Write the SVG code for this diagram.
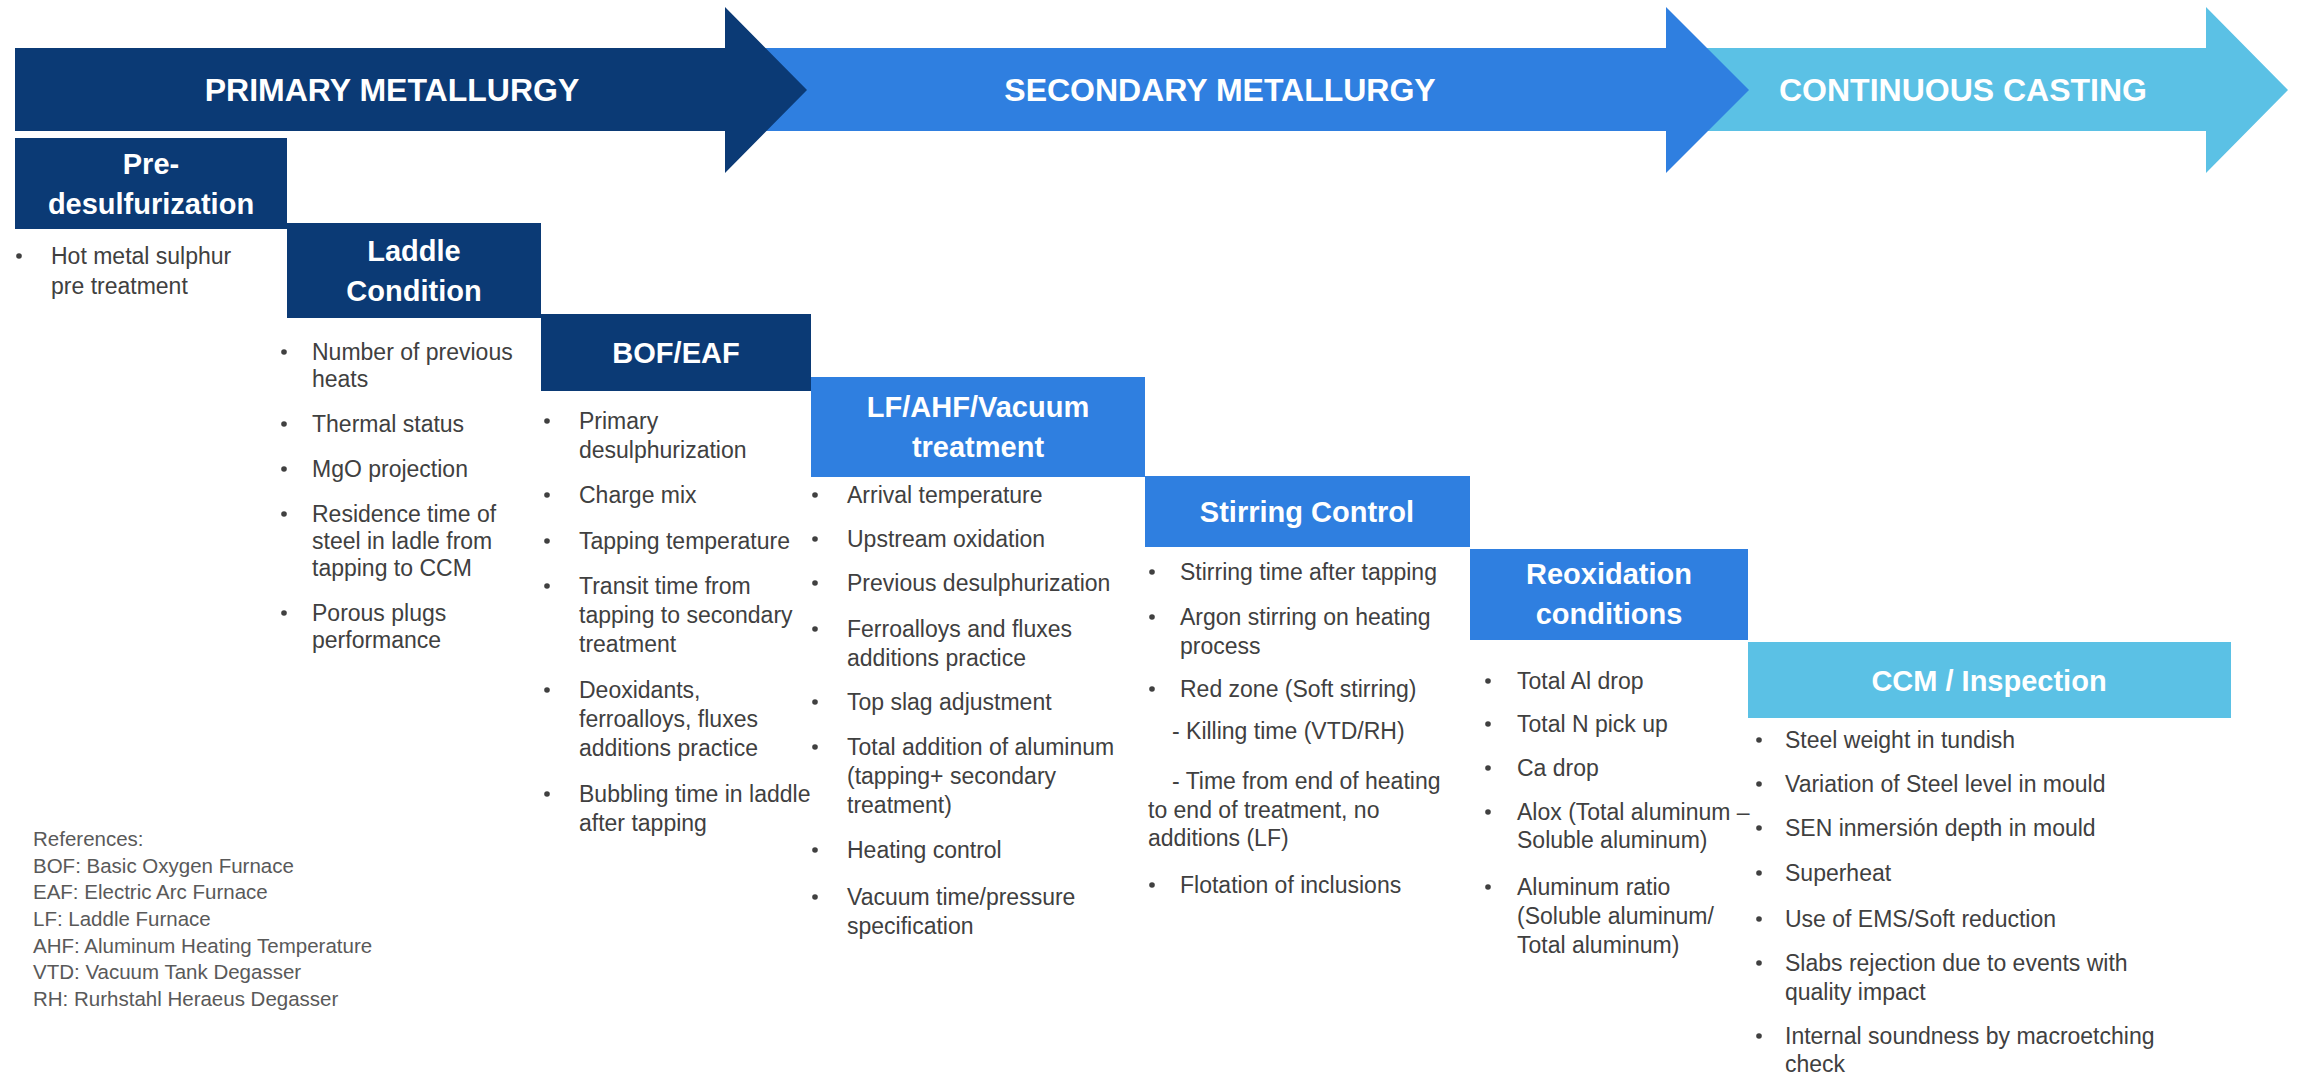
<svg xmlns="http://www.w3.org/2000/svg" width="2298" height="1074" viewBox="0 0 2298 1074">
  <style>
    .phase { font-family: "Liberation Sans", Arial, sans-serif; font-weight: bold; font-size: 32px; fill: #ffffff; text-anchor: middle; }
    .hdr { font-family: "Liberation Sans", Arial, sans-serif; font-weight: bold; font-size: 29px; fill: #ffffff; text-anchor: middle; }
    .item { font-family: "Liberation Sans", Arial, sans-serif; font-size: 23px; fill: #404040; }
    .ref { font-family: "Liberation Sans", Arial, sans-serif; font-size: 20.5px; fill: #595959; }
    .dot { fill: #404040; }
    .navy { fill: #0b3a75; }
    .blue { fill: #2f7fe0; }
    .sky { fill: #5bc1e5; }
  </style>

  <rect width="2298" height="1074" fill="#ffffff"/>

  <!-- Phase banners (drawn back to front so each head overlaps the next body) -->
  <g id="phase-continuous-casting">
    <polygon class="sky" points="1700,48 2206,48 2206,7 2288,90 2206,173 2206,131 1700,131"/>
    <text class="phase" x="1963" y="101">CONTINUOUS CASTING</text>
  </g>
  <g id="phase-secondary-metallurgy">
    <polygon class="blue" points="700,48 1666,48 1666,7 1749,90 1666,173 1666,131 700,131"/>
    <text class="phase" x="1220" y="101">SECONDARY METALLURGY</text>
  </g>
  <g id="phase-primary-metallurgy">
    <polygon class="navy" points="15,48 725,48 725,7 807,90 725,173 725,131 15,131"/>
    <text class="phase" x="392" y="101">PRIMARY METALLURGY</text>
  </g>

  <g id="connectors"></g>

  <!-- Step 1 -->
  <g id="pre-desulfurization">
    <rect class="navy" x="15" y="138" width="272" height="91"/>
    <text class="hdr" x="151" y="174">Pre-</text>
    <text class="hdr" x="151" y="214">desulfurization</text>
    <circle class="dot" cx="19" cy="256" r="2.8"/>
    <text class="item" x="51" y="264">Hot metal sulphur</text>
    <text class="item" x="51" y="294">pre treatment</text>
  </g>

  <!-- Step 2 -->
  <g id="laddle-condition">
    <rect class="navy" x="287" y="223" width="254" height="95"/>
    <text class="hdr" x="414" y="261">Laddle</text>
    <text class="hdr" x="414" y="301">Condition</text>
    <circle class="dot" cx="284" cy="352" r="2.8"/>
    <text class="item" x="312" y="360">Number of previous</text>
    <text class="item" x="312" y="387">heats</text>
    <circle class="dot" cx="284" cy="424" r="2.8"/>
    <text class="item" x="312" y="432">Thermal status</text>
    <circle class="dot" cx="284" cy="469" r="2.8"/>
    <text class="item" x="312" y="477">MgO projection</text>
    <circle class="dot" cx="284" cy="514" r="2.8"/>
    <text class="item" x="312" y="522">Residence time of</text>
    <text class="item" x="312" y="549">steel in ladle from</text>
    <text class="item" x="312" y="576">tapping to CCM</text>
    <circle class="dot" cx="284" cy="613" r="2.8"/>
    <text class="item" x="312" y="621">Porous plugs</text>
    <text class="item" x="312" y="648">performance</text>
  </g>

  <!-- Step 3 -->
  <g id="bof-eaf">
    <rect class="navy" x="541" y="314" width="270" height="77"/>
    <text class="hdr" x="676" y="363">BOF/EAF</text>
    <circle class="dot" cx="547" cy="421" r="2.8"/>
    <text class="item" x="579" y="429">Primary</text>
    <text class="item" x="579" y="458">desulphurization</text>
    <circle class="dot" cx="547" cy="495" r="2.8"/>
    <text class="item" x="579" y="503">Charge mix</text>
    <circle class="dot" cx="547" cy="541" r="2.8"/>
    <text class="item" x="579" y="549">Tapping temperature</text>
    <circle class="dot" cx="547" cy="586" r="2.8"/>
    <text class="item" x="579" y="594">Transit time from</text>
    <text class="item" x="579" y="623">tapping to secondary</text>
    <text class="item" x="579" y="652">treatment</text>
    <circle class="dot" cx="547" cy="690" r="2.8"/>
    <text class="item" x="579" y="698">Deoxidants,</text>
    <text class="item" x="579" y="727">ferroalloys, fluxes</text>
    <text class="item" x="579" y="756">additions practice</text>
    <circle class="dot" cx="547" cy="794" r="2.8"/>
    <text class="item" x="579" y="802">Bubbling time in laddle</text>
    <text class="item" x="579" y="831">after tapping</text>
  </g>

  <!-- Step 4 -->
  <g id="lf-ahf-vacuum">
    <rect class="blue" x="811" y="377" width="334" height="100"/>
    <text class="hdr" x="978" y="417">LF/AHF/Vacuum</text>
    <text class="hdr" x="978" y="457">treatment</text>
    <circle class="dot" cx="815" cy="495" r="2.8"/>
    <text class="item" x="847" y="503">Arrival temperature</text>
    <circle class="dot" cx="815" cy="539" r="2.8"/>
    <text class="item" x="847" y="547">Upstream oxidation</text>
    <circle class="dot" cx="815" cy="583" r="2.8"/>
    <text class="item" x="847" y="591">Previous desulphurization</text>
    <circle class="dot" cx="815" cy="629" r="2.8"/>
    <text class="item" x="847" y="637">Ferroalloys and fluxes</text>
    <text class="item" x="847" y="666">additions practice</text>
    <circle class="dot" cx="815" cy="702" r="2.8"/>
    <text class="item" x="847" y="710">Top slag adjustment</text>
    <circle class="dot" cx="815" cy="747" r="2.8"/>
    <text class="item" x="847" y="755">Total addition of aluminum</text>
    <text class="item" x="847" y="784">(tapping+ secondary</text>
    <text class="item" x="847" y="813">treatment)</text>
    <circle class="dot" cx="815" cy="850" r="2.8"/>
    <text class="item" x="847" y="858">Heating control</text>
    <circle class="dot" cx="815" cy="897" r="2.8"/>
    <text class="item" x="847" y="905">Vacuum time/pressure</text>
    <text class="item" x="847" y="934">specification</text>
  </g>

  <!-- Step 5 -->
  <g id="stirring-control">
    <rect class="blue" x="1145" y="476" width="325" height="71"/>
    <text class="hdr" x="1307" y="522">Stirring Control</text>
    <circle class="dot" cx="1152" cy="572" r="2.8"/>
    <text class="item" x="1180" y="580">Stirring time after tapping</text>
    <circle class="dot" cx="1152" cy="617" r="2.8"/>
    <text class="item" x="1180" y="625">Argon stirring on heating</text>
    <text class="item" x="1180" y="654">process</text>
    <circle class="dot" cx="1152" cy="689" r="2.8"/>
    <text class="item" x="1180" y="697">Red zone (Soft stirring)</text>
    <text class="item" x="1172" y="739">- Killing time (VTD/RH)</text>
    <text class="item" x="1172" y="789">- Time from end of heating</text>
    <text class="item" x="1148" y="818">to end of treatment, no</text>
    <text class="item" x="1148" y="846">additions (LF)</text>
    <circle class="dot" cx="1152" cy="885" r="2.8"/>
    <text class="item" x="1180" y="893">Flotation of inclusions</text>
  </g>

  <!-- Step 6 -->
  <g id="reoxidation-conditions">
    <rect class="blue" x="1470" y="549" width="278" height="91"/>
    <text class="hdr" x="1609" y="584">Reoxidation</text>
    <text class="hdr" x="1609" y="624">conditions</text>
    <circle class="dot" cx="1488" cy="681" r="2.8"/>
    <text class="item" x="1517" y="689">Total Al drop</text>
    <circle class="dot" cx="1488" cy="724" r="2.8"/>
    <text class="item" x="1517" y="732">Total N pick up</text>
    <circle class="dot" cx="1488" cy="768" r="2.8"/>
    <text class="item" x="1517" y="776">Ca drop</text>
    <circle class="dot" cx="1488" cy="812" r="2.8"/>
    <text class="item" x="1517" y="820">Alox (Total aluminum –</text>
    <text class="item" x="1517" y="848">Soluble aluminum)</text>
    <circle class="dot" cx="1488" cy="887" r="2.8"/>
    <text class="item" x="1517" y="895">Aluminum ratio</text>
    <text class="item" x="1517" y="924">(Soluble aluminum/</text>
    <text class="item" x="1517" y="953">Total aluminum)</text>
  </g>

  <!-- Step 7 -->
  <g id="ccm-inspection">
    <rect class="sky" x="1748" y="642" width="483" height="76"/>
    <text class="hdr" x="1989" y="691">CCM / Inspection</text>
    <circle class="dot" cx="1759" cy="740" r="2.8"/>
    <text class="item" x="1785" y="748">Steel weight in tundish</text>
    <circle class="dot" cx="1759" cy="784" r="2.8"/>
    <text class="item" x="1785" y="792">Variation of Steel level in mould</text>
    <circle class="dot" cx="1759" cy="828" r="2.8"/>
    <text class="item" x="1785" y="836">SEN inmersión depth in mould</text>
    <circle class="dot" cx="1759" cy="873" r="2.8"/>
    <text class="item" x="1785" y="881">Superheat</text>
    <circle class="dot" cx="1759" cy="919" r="2.8"/>
    <text class="item" x="1785" y="927">Use of EMS/Soft reduction</text>
    <circle class="dot" cx="1759" cy="963" r="2.8"/>
    <text class="item" x="1785" y="971">Slabs rejection due to events with</text>
    <text class="item" x="1785" y="1000">quality impact</text>
    <circle class="dot" cx="1759" cy="1036" r="2.8"/>
    <text class="item" x="1785" y="1044">Internal soundness by macroetching</text>
    <text class="item" x="1785" y="1072">check</text>
  </g>

  <!-- Abbreviation legend -->
  <g id="references">
    <text class="ref" x="33" y="846">References:</text>
    <text class="ref" x="33" y="873">BOF: Basic Oxygen Furnace</text>
    <text class="ref" x="33" y="899">EAF: Electric Arc Furnace</text>
    <text class="ref" x="33" y="926">LF: Laddle Furnace</text>
    <text class="ref" x="33" y="953">AHF: Aluminum Heating Temperature</text>
    <text class="ref" x="33" y="979">VTD: Vacuum Tank Degasser</text>
    <text class="ref" x="33" y="1006">RH: Rurhstahl Heraeus Degasser</text>
  </g>
</svg>
